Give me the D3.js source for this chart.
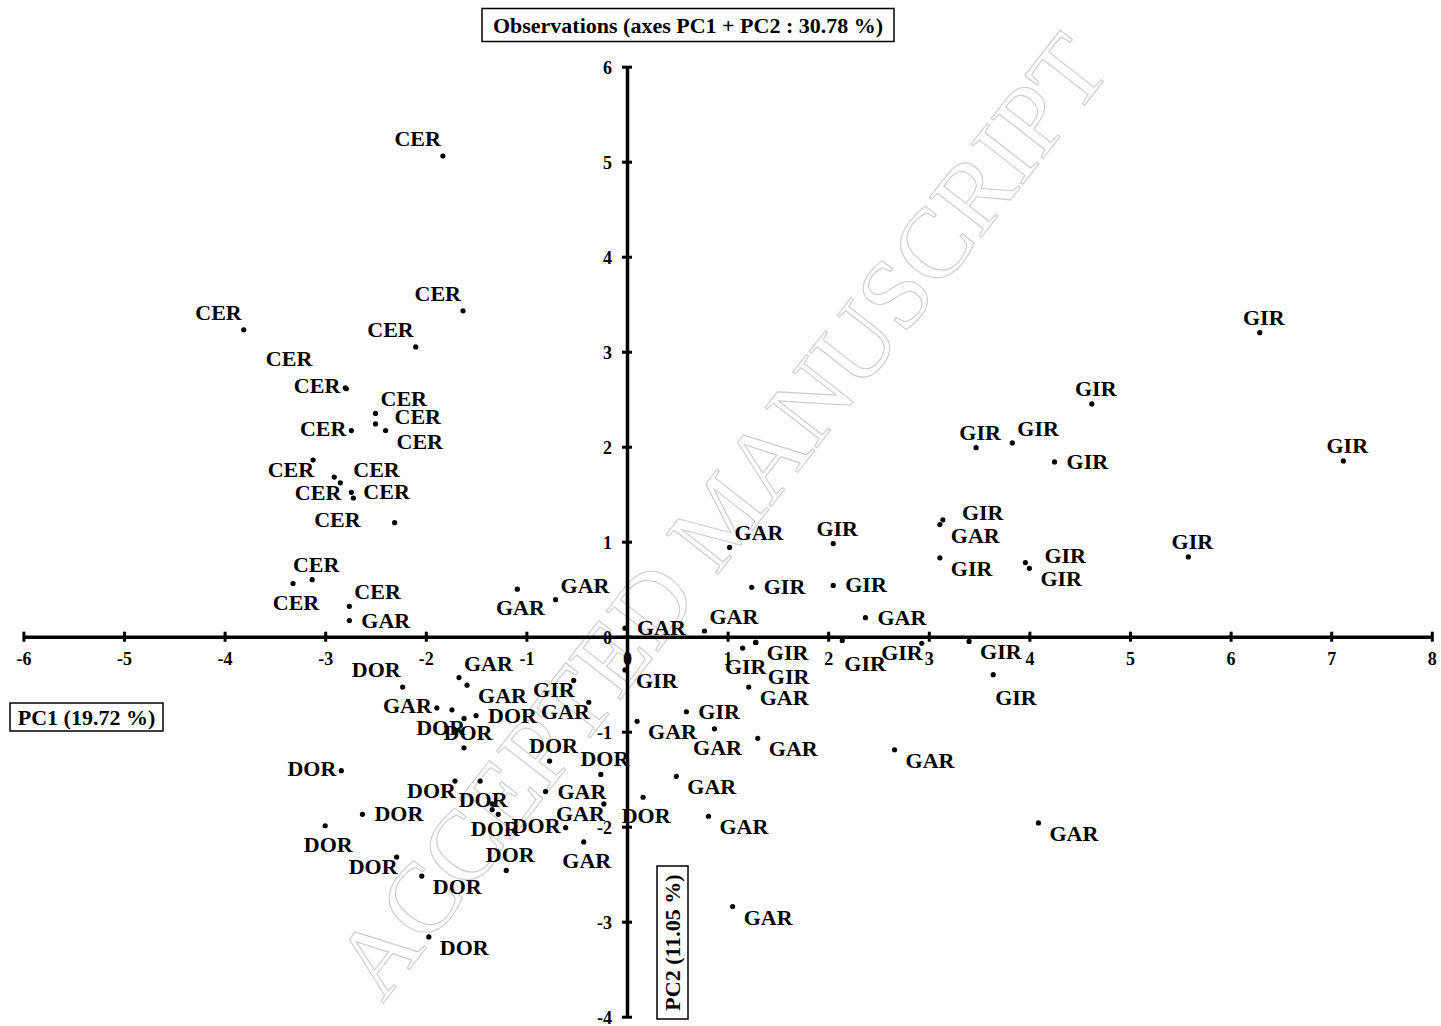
<!DOCTYPE html>
<html>
<head>
<meta charset="utf-8">
<script src="https://cdn.jsdelivr.net/npm/d3@7"></script>
<style>
  body { margin: 0; background: #fff; }
  svg { display: block; }
  text { font-family: "Liberation Serif", "Times New Roman", serif; font-weight: bold; }
</style>
</head>
<body>
<svg id="chart" width="1441" height="1026"></svg>
<script>
'use strict';

// PCA observations (PC1, PC2) per group
const groups = ['CER', 'GAR', 'GIR', 'DOR'];

const cerPC1 = [-1.83, -1.63, -3.81, -2.10, -2.80, -2.79, -2.50, -2.50, -2.40, -2.74, -3.12, -2.91, -2.85, -2.74, -2.72, -2.31, -3.13, -3.32, -2.76];
const cerPC2 = [5.06, 3.43, 3.23, 3.05, 2.62, 2.61, 2.35, 2.24, 2.17, 2.17, 1.86, 1.68, 1.62, 1.52, 1.46, 1.20, 0.60, 0.56, 0.32];
const cerPlace = ['nw', 'nw', 'nw', 'nw', 'w', 'NW', 'ne', 'E', 'se', 'w', 'sw', 'E', 'sw', 'e', 'none', 'W', 'n', 's', 'ne'];

const garPC1 = [-2.76, -1.67, -1.59, -1.89, -0.38, -0.81, -0.23, -0.43, -0.02, 0.77, 1.02, 2.37, 3.11, 1.21, 0.10, 0.87, 1.30, 0.49, 0.81, 1.05, 2.66, 4.09, -1.09, -0.71];
const garPC2 = [0.17, -0.43, -0.51, -0.75, -0.69, -1.63, -1.76, -2.16, 0.09, 0.06, 0.94, 0.20, 1.18, -0.53, -0.89, -0.97, -1.07, -1.47, -1.89, -2.84, -1.19, -1.96, 0.50, 0.39];
const garPlace = ['e', 'ne', 'se', 'w', 'sw', 'e', 'sw', 's', 'e', 'ne', 'ne', 'e', 'se', 'se', 'se', 's', 'se', 'se', 'se', 'se', 'se', 'se', 's', 'ne'];

const girPC1 = [-0.53, -0.02, 0.59, 1.15, 1.28, 1.28, 1.24, 2.05, 2.05, 2.14, 2.93, 3.40, 3.64, 3.11, 3.14, 3.96, 4.00, 5.58, 4.25, 3.47, 3.83, 4.62, 6.29, 7.12];
const girPC2 = [-0.46, -0.35, -0.79, -0.12, -0.06, -0.06, 0.52, 0.98, 0.54, -0.04, -0.07, -0.05, -0.40, 0.83, 1.23, 0.78, 0.72, 0.84, 1.84, 1.99, 2.04, 2.45, 3.20, 1.85];
const girPlace = ['sw', 'se', 'e', 's', 'se', 'SSE', 'e', 'n', 'e', 'sse', 'sw', 'se', 'sse', 'se', 'E', 'E', 'se', 'n', 'e', 'n', 'ne', 'n', 'n', 'n'];

const dorPC1 = [-2.23, -1.74, -1.62, -1.50, -1.62, -0.77, -0.26, -1.71, -1.46, -1.34, -1.34, -1.28, -0.61, -2.84, -2.63, -3.00, -2.29, -2.04, -1.20, -1.97, 0.16];
const dorPC2 = [-0.53, -0.77, -0.86, -0.83, -1.17, -1.31, -1.45, -1.52, -1.52, -1.76, -1.82, -1.87, -2.01, -1.41, -1.87, -1.99, -2.32, -2.52, -2.46, -3.16, -1.69];
const dorPlace = ['nw', 'none', 'sw', 'e', 'n', 'n', 'n', 'sw', 's', 'none', 's', 'none', 'w', 'w', 'e', 's', 'sw', 'se', 'n', 'se', 's'];

const xTicks = [-6, -5, -4, -3, -2, -1, 0, 1, 2, 3, 4, 5, 6, 7, 8];
const yTicks = [-4, -3, -2, -1, 0, 1, 2, 3, 4, 5, 6];

const chartTitle = 'Observations (axes PC1 + PC2 : 30.78 %)';
const xTitle = 'PC1 (19.72 %)';
const yTitle = 'PC2 (11.05 %)';
const watermark = 'ACCEPTED MANUSCRIPT';

// label placement around a point: [text-anchor, dx, baseline dy]
const placements = {
  n: ['middle', 4, -8],
  s: ['middle', 3, 26],
  e: ['start', 12, 7],
  E: ['start', 19, 0],
  w: ['end', -5, 5],
  ne: ['start', 5, -7],
  nw: ['end', -2, -10],
  se: ['start', 11, 18],
  sw: ['end', 1, 17],
  sse: ['start', 2, 30],
  SSE: ['start', 12, 42],
  NW: ['end', -34, -23],
  W: ['end', -34, 4]
};

const series = {
  CER: [cerPC1, cerPC2, cerPlace],
  GAR: [garPC1, garPC2, garPlace],
  GIR: [girPC1, girPC2, girPlace],
  DOR: [dorPC1, dorPC2, dorPlace]
};

const points = [];
groups.forEach(g => {
  const [xs, ys, pl] = series[g];
  xs.forEach((v, i) => points.push({ group: g, pc1: v, pc2: ys[i], place: pl[i] }));
});

const svg = d3.select('#chart');

const x = d3.scaleLinear().domain([-6, 8]).range([23.4, 1431.8]);
const y = d3.scaleLinear().domain([-4, 6]).range([1016.7, 66.7]);

// watermark from the manuscript page
svg
  .append('text')
  .attr('transform', 'translate(720,515) rotate(-52)')
  .attr('text-anchor', 'middle')
  .attr('dy', '0.35em')
  .style('font-weight', 'normal')
  .attr('font-size', 100)
  .attr('fill', 'none')
  .attr('stroke', '#cccccc')
  .attr('stroke-width', 1.1)
  .text(watermark);

//Axes crossing at the origin
const xAxis = d3.axisBottom(x).tickValues(xTicks).tickSizeInner(0).tickSizeOuter(0).tickFormat(d => String(d));
const gx = svg.append('g').attr('transform', `translate(0,${y(0)})`).call(xAxis);
gx.attr('font-size', 18);
gx.select('.domain').attr('stroke', '#000').attr('stroke-width', 3.5);
gx.selectAll('.tick line').attr('y1', -5).attr('y2', 5).attr('stroke', '#000').attr('stroke-width', 3);
gx.selectAll('.tick text').attr('y', 22).attr('dy', '0.35em').attr('fill', '#000');

const yAxis = d3.axisLeft(y).tickValues(yTicks).tickSizeInner(0).tickSizeOuter(0).tickFormat(d => String(d));
const gy = svg.append('g').attr('transform', `translate(${x(0)},0)`).call(yAxis);
gy.attr('font-size', 18);
gy.select('.domain').attr('stroke', '#000').attr('stroke-width', 3.5);
gy.selectAll('.tick line').attr('x1', -5).attr('x2', 5).attr('stroke', '#000').attr('stroke-width', 3);
gy.selectAll('.tick text').attr('x', -15).attr('dy', '0.35em').attr('fill', '#000');

//Points
svg
  .append('g')
  .selectAll('circle')
  .data(points)
  .join('circle')
  .attr('cx', d => x(d.pc1))
  .attr('cy', d => y(d.pc2))
  .attr('r', 2.6)
  .attr('fill', '#000');

//Point labels
svg
  .append('g')
  .attr('font-size', 22)
  .selectAll('text')
  .data(points.filter(d => placements[d.place]))
  .join('text')
  .attr('text-anchor', d => placements[d.place][0])
  .attr('x', d => x(d.pc1) + placements[d.place][1])
  .attr('y', d => y(d.pc2) + placements[d.place][2])
  .attr('fill', '#000')
  .text(d => d.group);

//Boxed titles
function boxedText(cx, cy, w, h, text, rotate) {
  const g = svg.append('g').attr('transform', `translate(${cx},${cy})` + (rotate ? ' rotate(-90)' : ''));
  g.append('rect')
    .attr('x', -w / 2)
    .attr('y', -h / 2)
    .attr('width', w)
    .attr('height', h)
    .attr('fill', '#fff')
    .attr('stroke', '#000')
    .attr('stroke-width', 1.5);
  g.append('text')
    .attr('text-anchor', 'middle')
    .attr('dy', '0.35em')
    .attr('font-size', 22)
    .attr('fill', '#000')
    .text(text);
}

boxedText(688, 25, 412, 33, chartTitle, false);
boxedText(86.5, 717, 153, 28, xTitle, false);
boxedText(672.5, 942.5, 153, 31, yTitle, true);
</script>
</body>
</html>
